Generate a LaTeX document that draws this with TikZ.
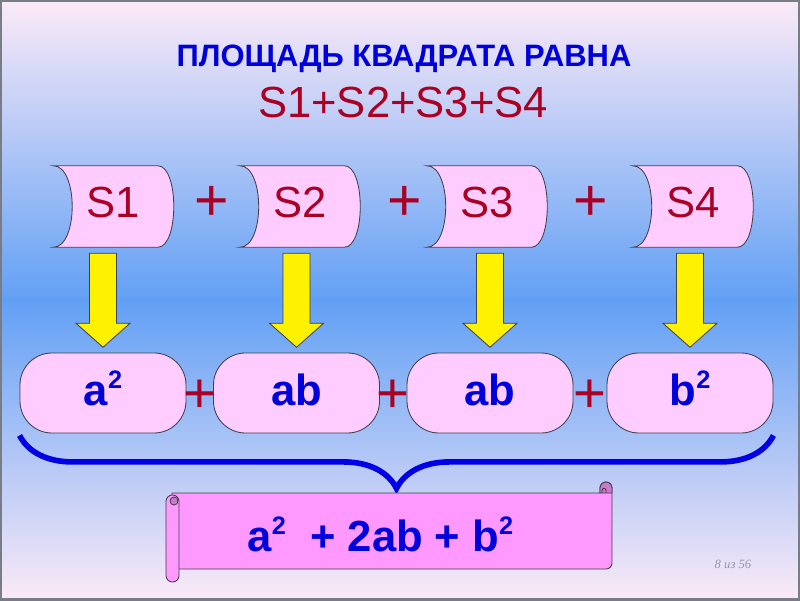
\documentclass[tikz,border=0pt]{standalone}
\usepackage{fontspec}
\setmainfont{Liberation Sans}
\newfontfamily\pagefont{Liberation Serif}
\usetikzlibrary{calc,decorations.pathreplacing}
\definecolor{ttlblue}{RGB}{0,0,220}
\definecolor{braceblue}{RGB}{0,0,230}
\definecolor{sred}{RGB}{170,0,36}
\definecolor{boxpink}{RGB}{255,204,255}
\definecolor{scrollpink}{RGB}{255,153,255}
\definecolor{curlpink}{RGB}{205,120,205}
\definecolor{edgegray}{RGB}{64,64,72}
\definecolor{framegray}{RGB}{120,124,135}
\definecolor{skypink}{RGB}{251,234,247}
\definecolor{skyblue}{RGB}{98,160,245}
\definecolor{pagegray}{RGB}{150,150,170}
\newcommand{\sqtwo}{\raisebox{0.42cm}{\fontsize{18}{18}\selectfont 2}}
\pgfdeclarelayer{back}
\pgfdeclarelayer{shapes}
\pgfsetlayers{back,shapes,main}

\begin{document}
\begin{tikzpicture}[
  ttl/.style={anchor=base, inner sep=0pt},
  sslot/.style={rectangle, minimum width=3cm, minimum height=2.025cm, inner sep=0pt,
                text height=0.55cm, text depth=0pt, text=sred,
                font=\fontsize{31}{31}\selectfont},
  sshape/.style={fill=boxpink, draw=edgegray, line width=0.6pt},
  pill/.style={rectangle, rounded corners=0.8cm, fill=boxpink, draw=edgegray,
               line width=0.6pt, minimum width=4.15cm, minimum height=2cm,
               text height=0.6cm, text depth=0pt, text=ttlblue,
               font=\fontsize{31}{31}\selectfont\bfseries},
  topplus/.style={text=sred, inner sep=0pt, yshift=-0.08cm,
                  font=\fontsize{42}{42}\selectfont},
  lowplus/.style={text=sred, inner sep=0pt, yshift=-0.08cm,
                  font=\fontsize{40}{40}\selectfont},
  yarrow/.style={fill=yellow, draw=edgegray, line width=0.6pt},
  curly/.style={decorate, decoration={brace, mirror, amplitude=1.325cm},
                draw=braceblue, line width=4pt},
  scroll/.style={fill=scrollpink, draw=edgegray, line width=0.6pt}
]
\useasboundingbox (0,0) rectangle (20,15);

% Background
\begin{pgfonlayer}{back}
\shade[top color=skypink, bottom color=skypink, middle color=skyblue] (0,0) rectangle (20,15);
\draw[framegray, line width=2.4pt] (0,0) rectangle (20,15);
\end{pgfonlayer}

% Title
\node[ttl, text=ttlblue, font=\fontsize{22}{22}\selectfont\bfseries] (title) at (10.1,13.325) {ПЛОЩАДЬ КВАДРАТА РАВНА};
\node[ttl, text=sred, font=\fontsize{31}{31}\selectfont] (total) at (10.075,12.05) {S1+S2+S3+S4};

% Parts S1..S4
\node[sslot] (s1) at (2.8375,9.8375) {S1};
\node[sslot] (s2) at (7.5,9.8375) {S2};
\node[sslot] (s3) at (12.175,9.8375) {S3};
\node[sslot] (s4) at (17.325,9.8375) {S4};
\begin{pgfonlayer}{shapes}
\foreach \i in {1,...,4}
  \draw[sshape] (s\i.north west) -- ([xshift=-0.4cm]s\i.north east)
    .. controls ([xshift=0.133cm]s\i.north east) and ([xshift=0.133cm]s\i.south east) .. ([xshift=-0.4cm]s\i.south east)
    -- (s\i.south west)
    .. controls ([xshift=0.633cm]s\i.south west) and ([xshift=0.633cm]s\i.north west) .. (s\i.north west) -- cycle;
\end{pgfonlayer}
\node[topplus] (t1) at (5.3,10.0) {+};
\node[topplus] (t2) at (10.125,10.0) {+};
\node[topplus] (t3) at (14.775,10.0) {+};

% Terms
\node[pill] (p1) at (2.575,5.175) {a\sqtwo};
\node[pill] (p2) at (7.4125,5.175) {ab};
\node[pill] (p3) at (12.25,5.175) {ab};
\node[pill] (p4) at (17.25,5.175) {b\sqtwo};
\node[lowplus] (l1) at ($(p1.east)!0.5!(p2.west)$) {+};
\node[lowplus] (l2) at ($(p2.east)!0.5!(p3.west)$) {+};
\node[lowplus] (l3) at ($(p3.east)!0.5!(p4.west)$) {+};

% Arrows
\foreach \i in {1,...,4}
  \draw[yarrow] ($(s\i.south -| p\i.north)+(0,-0.15)$) -- ++(0.3375,0) -- ++(0,-1.75)
    -- ++(0.3375,0) -- ++(-0.675,-0.6) -- ++(-0.675,0.6) -- ++(0.3375,0) -- ++(0,1.75) -- cycle;

% Brace
\draw[curly] ([yshift=-0.05cm]p1.south west) -- ([yshift=-0.05cm]p4.south east);

% Scroll with the sum
\filldraw[scroll] (4.3,2.675) -- (15.0,2.675) -- (15.0,2.8) arc[start angle=180, end angle=0, radius=0.15]
  -- (15.3,0.925) arc[start angle=0, end angle=-90, radius=0.15] -- (4.3,0.775) -- cycle;
\filldraw[scroll, fill=curlpink] (15.0,2.675) -- (15.0,2.8) arc[start angle=180, end angle=0, radius=0.15] -- (15.3,2.675) -- cycle;
\draw[edgegray, line width=0.6pt] (15.05,2.675) -- (15.05,2.74) arc[start angle=180, end angle=0, radius=0.05] -- (15.15,2.675);
\filldraw[scroll, rounded corners=0.16cm] (4.15,0.45) rectangle (4.475,2.625);
\filldraw[scroll, fill=curlpink] (4.35,2.475) circle[radius=0.1];
\node[ttl, text=ttlblue, font=\fontsize{31}{31}\selectfont\bfseries] (sum) at (9.5125,1.225) {a\sqtwo\ \ + 2ab + b\sqtwo};

% Page number
\node[text=pagegray, font=\pagefont\itshape\fontsize{9}{9}\selectfont] (pg) at (18.325,0.9) {8 из 56};
\end{tikzpicture}
\end{document}
